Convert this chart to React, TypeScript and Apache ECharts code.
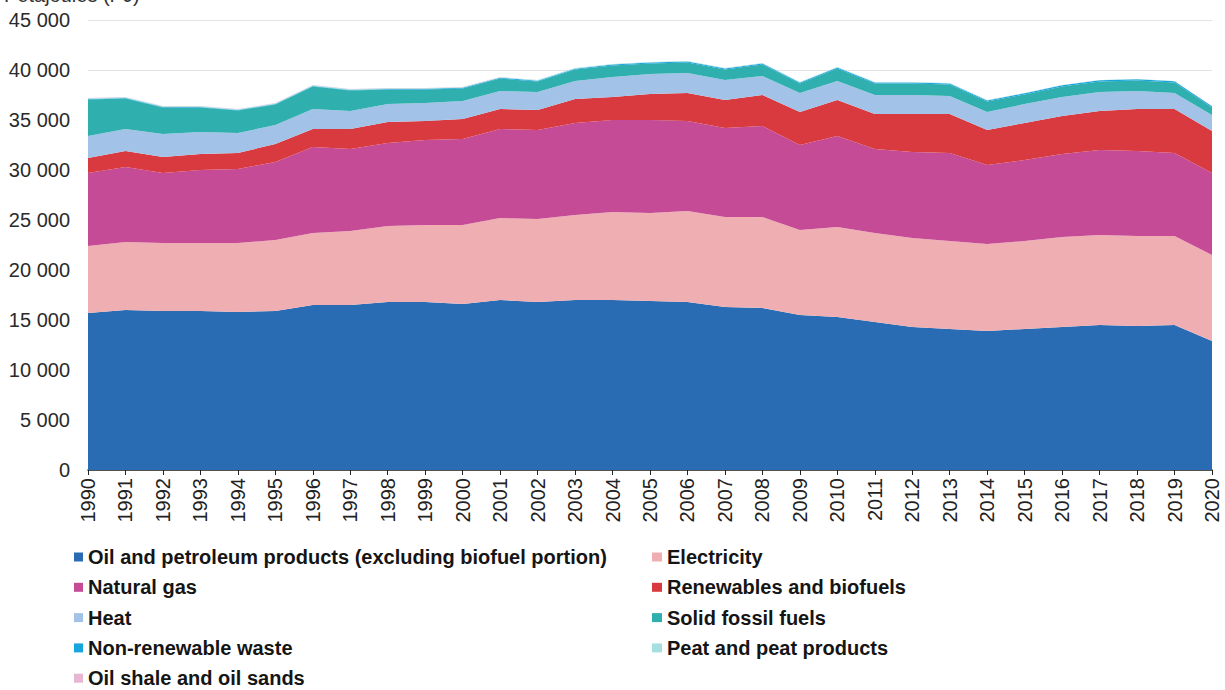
import React, { useEffect, useRef } from "react";
import * as echarts from "echarts";

const years = ["1990","1991","1992","1993","1994","1995","1996","1997","1998","1999","2000","2001","2002","2003","2004","2005","2006","2007","2008","2009","2010","2011","2012","2013","2014","2015","2016","2017","2018","2019","2020"];

const oil = [15700,16000,15900,15900,15800,15900,16500,16500,16800,16800,16600,17000,16800,17000,17000,16900,16800,16300,16200,15500,15300,14800,14300,14100,13900,14100,14300,14500,14400,14500,12900];
const electricity = [6700,6800,6800,6800,6900,7100,7200,7400,7600,7700,7900,8200,8300,8500,8800,8800,9100,9000,9100,8500,9000,8900,8900,8800,8700,8800,9000,9000,9000,8900,8600];
const naturalGas = [7300,7500,7000,7300,7400,7800,8600,8200,8300,8500,8600,8900,8900,9200,9200,9300,9000,8900,9100,8500,9100,8400,8600,8800,7900,8100,8300,8500,8500,8300,8200];
const renewables = [1500,1600,1600,1600,1600,1800,1800,2000,2100,1900,2000,2000,2000,2400,2300,2600,2800,2800,3100,3300,3600,3500,3800,3900,3500,3700,3800,3900,4200,4400,4200];
const heat = [2200,2200,2300,2200,2000,1900,2000,1800,1800,1800,1800,1800,1800,1800,2000,2000,2000,2000,1900,1900,1900,1900,1900,1800,1800,1900,1900,1900,1800,1600,1600];
const solidFossil = [3650,3050,2650,2450,2250,2050,2250,2050,1450,1350,1250,1250,1050,1150,1150,1050,1050,1050,1150,950,1250,1150,1150,1150,1050,950,1050,1050,1050,1050,750];
const nonRenewableWaste = [40,40,45,45,50,50,55,60,60,65,70,75,80,85,90,95,100,100,105,100,105,105,110,110,110,115,115,120,120,120,115];
const peat = [90,85,85,80,80,75,75,70,70,65,65,60,60,55,55,50,50,45,45,40,40,40,35,35,30,30,30,25,25,25,20];
const oilShale = [20,20,15,15,15,15,15,15,15,15,10,10,10,10,10,10,10,10,10,10,10,10,10,10,10,10,10,10,10,10,10];

const yTicks = [0, 5000, 10000, 15000, 20000, 25000, 30000, 35000, 40000, 45000];

const names = {
  oil: "Oil and petroleum products (excluding biofuel portion)",
  electricity: "Electricity",
  gas: "Natural gas",
  ren: "Renewables and biofuels",
  heat: "Heat",
  solid: "Solid fossil fuels",
  waste: "Non-renewable waste",
  peat: "Peat and peat products",
  shale: "Oil shale and oil sands",
};

const colors = {
  oil: "#2a6cb4",
  electricity: "#efafb2",
  gas: "#c54b96",
  ren: "#d83a40",
  heat: "#a3c2e8",
  solid: "#2fb0ae",
  waste: "#18a4dd",
  peat: "#a6dfe0",
  shale: "#e7b6d3",
};

const FONT = "Liberation Sans, Arial, sans-serif";

function fmt(v: number): string {
  return String(v).replace(/\B(?=(\d{3})+(?!\d))/g, " ");
}

export default function App() {
  const ref = useRef<HTMLDivElement>(null);
  useEffect(() => {
    if (!ref.current) return;
    const chart = echarts.init(ref.current, undefined, { renderer: "svg" });
    const mk = (key: keyof typeof names, data: number[]) => ({
      name: names[key],
      type: "line",
      stack: "total",
      data,
      symbol: "none",
      lineStyle: { width: 0 },
      itemStyle: { color: colors[key] },
      areaStyle: { color: colors[key], opacity: 1 },
      emphasis: { disabled: true },
    });
    const legendText = {
      fontFamily: FONT,
      fontSize: 20,
      fontWeight: "bold",
      color: "#151515",
      lineHeight: 20,
    };
    const legendBase = {
      orient: "vertical",
      top: 542,
      height: 200,
      itemWidth: 9,
      itemHeight: 9,
      itemGap: 10.3,
      icon: "rect",
      textStyle: legendText,
      selectedMode: false,
    };
    chart.setOption({
      animation: false,
      textStyle: { fontFamily: FONT },
      graphic: [
        {
          type: "text",
          left: 4,
          top: -15,
          style: {
            text: "Petajoules (PJ)",
            fontSize: 20,
            fontFamily: FONT,
            fill: "#333",
          },
        },
      ],
      grid: { left: 88, right: 13, top: 20, bottom: 220, containLabel: false },
      xAxis: {
        type: "category",
        data: years,
        boundaryGap: false,
        axisLine: { lineStyle: { color: "#222", width: 1.5 } },
        axisTick: { show: true, alignWithLabel: true, length: 5, lineStyle: { color: "#222" } },
        axisLabel: { rotate: 90, fontSize: 20, color: "#222", margin: 8, interval: 0 },
        splitLine: { show: false },
      },
      yAxis: {
        type: "value",
        min: 0,
        max: 45000,
        interval: 5000,
        axisLine: { show: false },
        axisTick: { show: false },
        axisLabel: {
          fontSize: 20,
          color: "#2a2a2a",
          margin: 18,
          formatter: (v: number) => (yTicks.includes(v) ? fmt(v) : ""),
        },
        splitLine: { show: true, lineStyle: { color: "#e2e2e2" } },
      },
      legend: [
        {
          ...legendBase,
          left: 69,
          data: [names.oil, names.gas, names.heat, names.waste, names.shale],
        },
        {
          ...legendBase,
          left: 647,
          itemWidth: 10,
          data: [names.electricity, names.ren, names.solid, names.peat],
        },
      ],
      series: [
        mk("oil", oil),
        mk("electricity", electricity),
        mk("gas", naturalGas),
        mk("ren", renewables),
        mk("heat", heat),
        mk("solid", solidFossil),
        mk("waste", nonRenewableWaste),
        mk("peat", peat),
        mk("shale", oilShale),
      ],
    });
    return () => chart.dispose();
  }, []);
  return (
    <div
      ref={ref}
      style={{ position: "fixed", left: 0, top: 0, width: 1225, height: 690, background: "#fff" }}
    />
  );
}
